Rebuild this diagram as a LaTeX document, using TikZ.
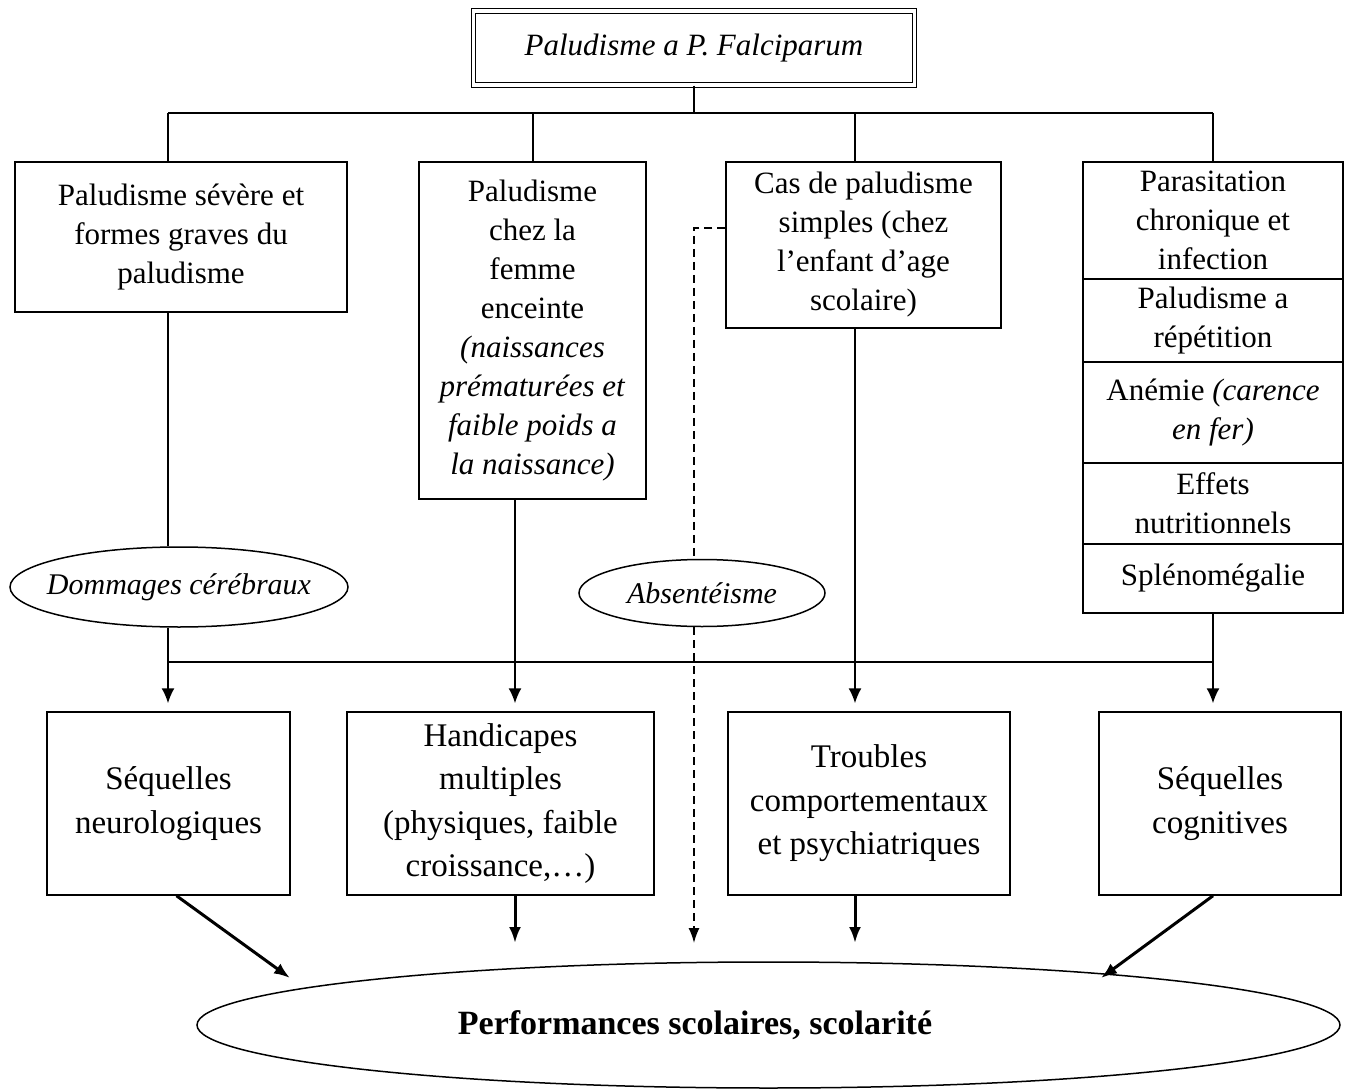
\documentclass[tikz,border=0pt]{standalone}
\usepackage{fontspec}
\setmainfont{Liberation Serif}
\usetikzlibrary{shapes.geometric,arrows.meta}

\tikzset{
  boite/.style={draw, rectangle, align=center, inner sep=0pt, line width=1.5pt,
    font=\fontsize{31}{39}\selectfont},
  bulle/.style={draw, ellipse, inner sep=0pt, line width=1.5pt,
    font=\fontsize{30}{36}\selectfont\itshape},
  effet/.style={draw, rectangle, align=center, inner sep=0pt, line width=1.5pt,
    font=\fontsize{33}{43.5}\selectfont},
  lien/.style={line width=1.5pt},
  fleche/.style={line width=1.5pt, -{Latex[length=15pt,width=13pt]}, shorten >=8pt},
  grosse/.style={line width=3pt, -{Latex[length=16pt,width=12pt]}},
  pointille/.style={line width=1.5pt, dash pattern=on 8pt off 5pt},
}

\begin{document}
\begin{tikzpicture}[x=1pt,y=-1pt]
  \useasboundingbox (0,0) rectangle (1345,1089);

  % titre
  \node[draw, double, double distance=3.5pt, line width=1.2pt, inner sep=0pt,
    minimum width=441pt, minimum height=74pt,
    font=\fontsize{31}{36}\selectfont\itshape] (titre) at (694,48) {Paludisme a P. Falciparum};

  % formes du paludisme
  \node[boite, minimum width=332pt, minimum height=150pt] (severe) at (181,237)
    {Paludisme sévère et\\formes graves du\\paludisme};
  \node[boite, minimum width=227pt, minimum height=337pt] (enceinte) at (532.5,330.5)
    {Paludisme\\chez la\\femme\\enceinte\\\textit{(naissances}\\\textit{prématurées et}\\\textit{faible poids a}\\\textit{la naissance)}};
  \node[boite, minimum width=275pt, minimum height=166pt] (simple) at (863.5,245)
    {Cas de paludisme\\simples (chez\\l'enfant d'age\\scolaire)};

  \node[boite, minimum width=260pt, minimum height=117pt] (chron) at (1213,220.5)
    {Parasitation\\chronique et\\infection};
  \node[boite, minimum width=260pt, minimum height=83pt] (repet) at (1213,320.5)
    {Paludisme a\\répétition};
  \node[boite, minimum width=260pt, minimum height=101pt] (anemie) at (1213,412.5)
    {Anémie \textit{(carence}\\\textit{en fer)}};
  \node[boite, minimum width=260pt, minimum height=81pt] (nutri) at (1213,503.5)
    {Effets\\nutritionnels};
  \node[boite, minimum width=260pt, minimum height=69pt] (splen) at (1213,578.5)
    {Splénomégalie};

  \node[bulle, inner xsep=-15pt, minimum width=338pt, minimum height=80pt] (cerveau) at (179,587) {Dommages cérébraux};
  \node[bulle, minimum width=246pt, minimum height=67pt] (absent) at (702,593) {Absentéisme};

  % consequences
  \node[effet, minimum width=243pt, minimum height=183pt] (neuro) at (168.5,803.5)
    {Séquelles\\neurologiques};
  \node[effet, minimum width=307pt, minimum height=183pt] (handicap) at (500.5,803.5)
    {Handicapes\\multiples\\(physiques, faible\\croissance,\dots)};
  \node[effet, minimum width=282pt, minimum height=183pt] (troubles) at (869,803.5)
    {Troubles\\comportementaux\\et psychiatriques};
  \node[effet, minimum width=242pt, minimum height=183pt] (cognitif) at (1220,803.5)
    {Séquelles\\cognitives};

  \node[draw, ellipse, line width=1.5pt, minimum width=1143pt, minimum height=126pt] (perf) at (768.5,1025) {};
  \node[font=\fontsize{34}{40}\selectfont\bfseries] (perftxt) at (695,1025) {Performances scolaires, scolarité};

  % arbre du haut
  \coordinate (c1) at (168,113);
  \coordinate (c2) at (533,113);
  \coordinate (c3) at (855,113);
  \coordinate (c4) at (1213,113);
  \draw[lien] (titre.south) -- (titre.south |- c1);
  \draw[lien] (c1) -- (c4);
  \draw[lien] (c1) -- (c1 |- severe.north);
  \draw[lien] (c2) -- (c2 |- enceinte.north);
  \draw[lien] (c3) -- (c3 |- simple.north);
  \draw[lien] (c4) -- (chron.north);

  % vers les consequences
  \coordinate (rail) at (0,662);
  \coordinate (c2b) at (515,0);
  \draw[lien] (c1 |- severe.south) -- (c1 |- cerveau.north);
  \draw[lien] (c1 |- cerveau.south) -- (c1 |- rail) -- (c4 |- rail);
  \draw[lien] (splen.south) -- (c4 |- rail);
  \draw[fleche] (c1 |- rail) -- (c1 |- neuro.north);
  \draw[fleche] (c4 |- rail) -- (c4 |- cognitif.north);
  \draw[fleche] (c2b |- enceinte.south) -- (c2b |- handicap.north);
  \draw[fleche] (c3 |- simple.south) -- (c3 |- troubles.north);

  % absenteisme
  \coordinate (coude) at (694,228);
  \coordinate (bas) at (0,943);
  \draw[pointille] (simple.west |- coude) -- (coude) -- (coude |- absent.north);
  \draw[pointille, -{Latex[length=15pt,width=11pt]}] (coude |- absent.south) -- (coude |- bas);

  % vers la scolarite
  \coordinate (versg) at (290,978);
  \coordinate (versd) at (1101,978);
  \draw[grosse] ([xshift=8pt]neuro.south) -- (versg);
  \draw[grosse] (c2b |- handicap.south) -- (c2b |- bas);
  \draw[grosse] (c3 |- troubles.south) -- (c3 |- bas);
  \draw[grosse] (c4 |- cognitif.south) -- (versd);
\end{tikzpicture}
\end{document}
